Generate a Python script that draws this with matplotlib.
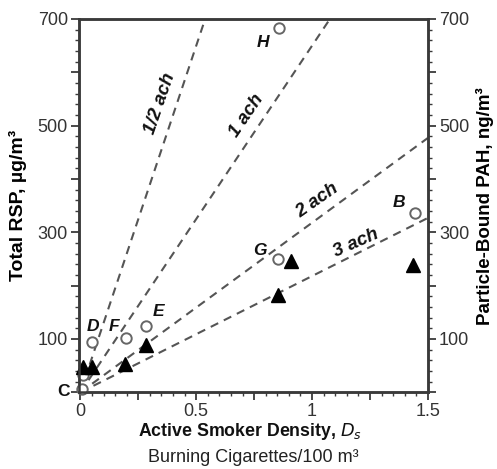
import numpy as np
import matplotlib
matplotlib.use('Agg')
import matplotlib.pyplot as plt
from matplotlib.ticker import MultipleLocator, FuncFormatter

plt.rcParams['font.family'] = ['Liberation Sans', 'DejaVu Sans']

# open circles: total RSP
rsp_x = [0.006, 0.01, 0.05, 0.196, 0.284, 0.853, 0.857, 1.443]
rsp_y = [6, 32, 94, 101, 124, 250, 684, 336]
# filled triangles: particle-bound PAH
pah_x = [0.012, 0.052, 0.193, 0.284, 0.853, 0.907, 1.436]
pah_y = [47, 47, 54, 88, 182, 247, 238]

# air exchange rates and slopes of the model lines
ach_names = ['1/2 ach', '1 ach', '2 ach', '3 ach']
ach_slopes = [1300, 650, 318, 218]

# point letters
letters = ['H', 'B', 'G', 'D', 'F', 'E']
letter_x = [0.789, 1.377, 0.773, 0.053, 0.146, 0.339]
letter_y = [655, 356, 266, 124, 123, 151]

fig = plt.figure(figsize=(4.97, 4.69), dpi=100)
ax = fig.add_axes([0.159, 0.1635, 0.702, 0.796])

xs = np.linspace(0, 1.5, 200)
for s in ach_slopes:
    ax.plot(xs, s * xs, ls=(0, (4, 3)), color='#555555', lw=1.5, zorder=1)

ax.plot(rsp_x, rsp_y, 'o', ms=7.5, mfc='white', mec='#666666', mew=1.4, zorder=3, clip_on=False)
ax.plot(pah_x, pah_y, '^', ms=9.5, color='black', zorder=4, clip_on=False)

lab_pos = [(0.345, 541, 71), (0.717, 518, 56), (1.024, 359, 35), (1.189, 279, 24)]
for name, (tx, ty, rot) in zip(ach_names, lab_pos):
    ax.text(tx, ty, name, rotation=rot, ha='center', va='center', fontsize=13.5,
            fontweight='bold', fontstyle='italic', color='#111111')

for t, lx, ly in zip(letters, letter_x, letter_y):
    ax.text(lx, ly, t, ha='center', va='center', fontsize=12.5, fontweight='bold',
            fontstyle='italic', color='#111111')
ax.text(-0.075, 2, 'C', ha='center', va='center', fontsize=12.5, fontweight='bold',
        color='#111111', clip_on=False)

ax.set_xlim(-0.006, 1.5)
ax.set_ylim(0, 700)

ax.xaxis.set_major_locator(MultipleLocator(0.25))
ax.xaxis.set_minor_locator(MultipleLocator(0.05))
ax.xaxis.set_major_formatter(FuncFormatter(
    lambda v, p: ('%g' % v) if abs(v / 0.5 - round(v / 0.5)) < 1e-6 else ''))
ax.yaxis.set_major_locator(MultipleLocator(100))
ax.yaxis.set_minor_locator(MultipleLocator(20))
yfmt = FuncFormatter(lambda v, p: ('%d' % v) if int(round(v)) % 200 == 100 else '')
ax.yaxis.set_major_formatter(yfmt)

ax2 = ax.twinx()
ax2.set_ylim(0, 700)
ax2.yaxis.set_major_locator(MultipleLocator(100))
ax2.yaxis.set_minor_locator(MultipleLocator(20))
ax2.yaxis.set_major_formatter(yfmt)

for a in (ax, ax2):
    for sp in a.spines.values():
        sp.set_linewidth(1.8)
        sp.set_color('#3a3a3a')
    a.tick_params(which='major', length=6, width=1.3, color='#3a3a3a',
                  labelsize=13, labelcolor='#333333', pad=2)
    a.tick_params(which='minor', length=3, width=1.0, color='#3a3a3a')

ax.set_ylabel('Total RSP, \u00b5g/m\u00b3', fontsize=14, fontweight='bold', labelpad=8)
ax2.set_ylabel('Particle-Bound PAH, ng/m\u00b3', fontsize=13.5, fontweight='bold', labelpad=5)

fig.text(0.503, 0.079, 'Active Smoker Density, $\\boldsymbol{D_s}$', ha='center',
         va='center', fontsize=12.8, fontweight='bold', color='#111111')
fig.text(0.51, 0.0235, 'Burning Cigarettes/100 m\u00b3', ha='center', va='center',
         fontsize=13, color='#222222')

fig.savefig('out.png', dpi=100)
